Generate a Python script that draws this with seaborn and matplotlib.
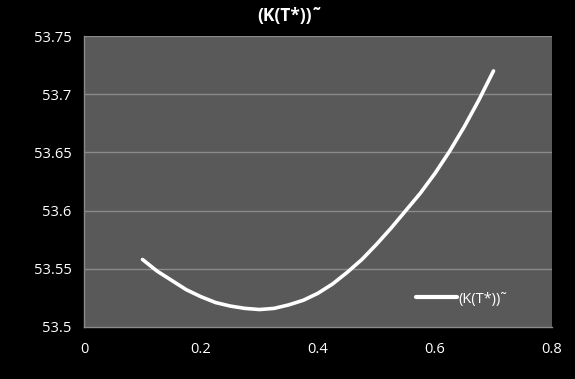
import matplotlib
matplotlib.use("Agg")
import matplotlib.pyplot as plt
import seaborn as sns
import pandas as pd

x_vals = [0.100, 0.125, 0.150, 0.175, 0.200, 0.225, 0.250, 0.275, 0.300, 0.325,
          0.350, 0.375, 0.400, 0.425, 0.450, 0.475, 0.500, 0.525, 0.550, 0.575,
          0.600, 0.625, 0.650, 0.675, 0.700]
k_vals = [53.558, 53.548, 53.540, 53.532, 53.526, 53.521, 53.518, 53.516, 53.515, 53.516,
          53.519, 53.523, 53.529, 53.537, 53.547, 53.558, 53.571, 53.585, 53.600, 53.615,
          53.632, 53.651, 53.672, 53.695, 53.720]
series_name = "(K(T*))\u02dc"
title_text = "(K(T*))\u02dc"
x_ticks = [0, 0.2, 0.4, 0.6, 0.8]
x_tick_labels = ["0", "0.2", "0.4", "0.6", "0.8"]
y_ticks = [53.5, 53.55, 53.6, 53.65, 53.7, 53.75]
y_tick_labels = ["53.5", "53.55", "53.6", "53.65", "53.7", "53.75"]

sns.set_style("dark")
plt.rcParams['font.family'] = ['Open Sans', 'DejaVu Sans']

df = pd.DataFrame({"x": x_vals, "k": k_vals, "series": series_name})

fig = plt.figure(figsize=(5.75, 3.79), dpi=100, facecolor="black")
ax = fig.add_axes([84/575, 1-327/379, (552-84)/575, (327-36)/379])
ax.set_facecolor("#595959")

sns.lineplot(data=df, x="x", y="k", hue="series", palette=["white"], ax=ax,
             linewidth=2.6, solid_capstyle="round", solid_joinstyle="round")

ax.set_xlim(0, 0.8)
ax.set_ylim(53.5, 53.75)
ax.set_xticks(x_ticks)
ax.set_xticklabels(x_tick_labels)
ax.set_yticks(y_ticks)
ax.set_yticklabels(y_tick_labels)
ax.set_xlabel("")
ax.set_ylabel("")

ax.grid(False)
for yv in y_ticks[1:]:
    ax.axhline(yv, color="#8a8a8a", linewidth=1.0, zorder=0.5)

for side in ["top", "right"]:
    ax.spines[side].set_visible(False)
for side in ["left", "bottom"]:
    ax.spines[side].set_visible(True)
    ax.spines[side].set_color("#8a8a8a")
    ax.spines[side].set_linewidth(1.0)

ax.tick_params(axis="both", which="both", colors="#8a8a8a", labelcolor="white",
               labelsize=10.5, length=5, direction="out", width=1)
ax.tick_params(axis="x", pad=6)
ax.tick_params(axis="y", pad=4)

fig.text(290/575, 1-16/379, title_text, color="white", fontsize=12.5,
         fontweight="bold", ha="center", va="center")

leg = ax.legend(loc="center left", bbox_to_anchor=((416-84)/468, 1-(299-36)/291),
                frameon=False, handlelength=2.8, handletextpad=0.1,
                borderaxespad=0, borderpad=0, fontsize=10.5)
for t in leg.get_texts():
    t.set_color("white")
for h in leg.get_lines():
    h.set_linewidth(3)
    h.set_solid_capstyle("round")

fig.savefig("out.png", dpi=100, facecolor="black")
